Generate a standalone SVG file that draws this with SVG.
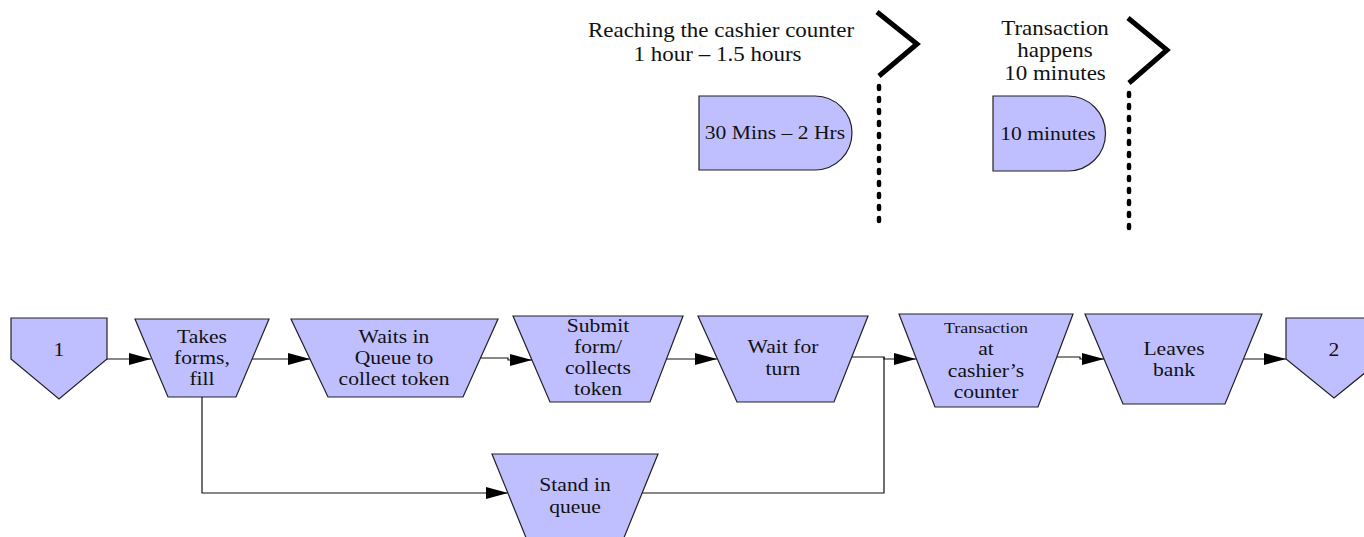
<svg xmlns="http://www.w3.org/2000/svg" width="1364" height="537" viewBox="0 0 1364 537">
  <style>
    .node { fill: #bfbfff; stroke: #222; stroke-width: 1.2; stroke-linejoin: miter; }
    .lbl { font-family: "Liberation Serif", "Times New Roman", serif; font-size: 18px; fill: #111; text-anchor: middle; }
    .small { font-size: 15px; }
    .top { font-size: 20px; }
    .edge { fill: none; stroke: #111; stroke-width: 1.2; }
    .bracket { fill: none; stroke: #000; stroke-width: 5; stroke-linejoin: miter; }
    .dots { fill: none; stroke: #000; stroke-width: 4.5; stroke-linecap: round; stroke-dasharray: 3 9; }
  </style>
  <defs>
    <marker id="arrow" markerUnits="userSpaceOnUse" markerWidth="22" markerHeight="12" refX="22" refY="6" orient="auto">
      <path d="M0,0 L22,6 L0,12 Z" fill="#000"/>
    </marker>
  </defs>
  <rect width="1364" height="537" fill="#fff"/>

  <!-- timeline markers; labels are set in a slightly widened serif -->
  <g id="marker-reaching">
    <g transform="translate(721 0) scale(1.15 1)">
      <text class="lbl top" x="0" y="37">Reaching the cashier counter</text>
      <text class="lbl top" x="-3" y="61">1 hour – 1.5 hours</text>
    </g>
    <polyline class="bracket" points="877,12 917,44 879,76"/>
    <line class="dots" x1="879" y1="86" x2="879" y2="225"/>
  </g>
  <g id="marker-transaction">
    <g transform="translate(1055 0) scale(1.15 1)">
      <text class="lbl top" x="0" y="35">Transaction</text>
      <text class="lbl top" x="0" y="57">happens</text>
      <text class="lbl top" x="0" y="80">10 minutes</text>
    </g>
    <polyline class="bracket" points="1128,18 1167,50 1129,83"/>
    <line class="dots" x1="1129" y1="93" x2="1129" y2="235"/>
  </g>

  <!-- delay blocks -->
  <g id="delay-30min">
    <path class="node" d="M699,96 H815 A37,37 0 0 1 815,170 H699 Z"/>
    <text class="lbl" transform="translate(775 0) scale(1.2 1)" x="0" y="139">30 Mins – 2 Hrs</text>
  </g>
  <g id="delay-10min">
    <path class="node" d="M993,96 H1068 A37,37 0 0 1 1068,171 H993 Z"/>
    <text class="lbl" transform="translate(1048 0) scale(1.2 1)" x="0" y="140">10 minutes</text>
  </g>

  <!-- connectors -->
  <g id="connectors">
    <path class="edge" d="M107,359 H151" marker-end="url(#arrow)"/>
    <path class="edge" d="M252,359 H310" marker-end="url(#arrow)"/>
    <path class="edge" d="M480,358 H508 V360 H532" marker-end="url(#arrow)"/>
    <path class="edge" d="M666,359 H717" marker-end="url(#arrow)"/>
    <path class="edge" d="M851,357 H884 V359 H916" marker-end="url(#arrow)"/>
    <path class="edge" d="M1057,357 H1080 V359 H1104" marker-end="url(#arrow)"/>
    <path class="edge" d="M1243,359 H1286" marker-end="url(#arrow)"/>
    <path class="edge" d="M202,397 V493 H508" marker-end="url(#arrow)"/>
    <path class="edge" d="M642,493 H884 V357"/>
  </g>

  <!-- process nodes -->
  <g id="n-start">
    <polygon class="node" points="11,318 107,318 107,359 59,399 11,359"/>
    <text class="lbl" transform="translate(59 0) scale(1.2 1)" x="0" y="356">1</text>
  </g>
  <g id="n-takes-forms">
    <polygon class="node" points="135,319 269,319 236,397 168,397"/>
    <g transform="translate(202 0) scale(1.2 1)">
      <text class="lbl" x="0" y="343">Takes</text>
      <text class="lbl" x="0" y="364">forms,</text>
      <text class="lbl" x="0" y="385">fill</text>
    </g>
  </g>
  <g id="n-waits-queue">
    <polygon class="node" points="291,319 498,319 463,397 328,397"/>
    <g transform="translate(394 0) scale(1.2 1)">
      <text class="lbl" x="0" y="343">Waits in</text>
      <text class="lbl" x="0" y="364">Queue to</text>
      <text class="lbl" x="0" y="385">collect token</text>
    </g>
  </g>
  <g id="n-submit-form">
    <polygon class="node" points="513,316 683,316 650,402 550,402"/>
    <g transform="translate(598 0) scale(1.2 1)">
      <text class="lbl" x="0" y="332">Submit</text>
      <text class="lbl" x="0" y="353">form/</text>
      <text class="lbl" x="0" y="374">collects</text>
      <text class="lbl" x="0" y="395">token</text>
    </g>
  </g>
  <g id="n-wait-turn">
    <polygon class="node" points="698,316 868,316 834,402 737,402"/>
    <g transform="translate(783 0) scale(1.2 1)">
      <text class="lbl" x="0" y="353">Wait for</text>
      <text class="lbl" x="0" y="375">turn</text>
    </g>
  </g>
  <g id="n-transaction">
    <polygon class="node" points="899,314 1073,314 1038,407 935,407"/>
    <g transform="translate(986 0) scale(1.2 1)">
      <text class="lbl small" x="0" y="333">Transaction</text>
      <text class="lbl" x="0" y="355">at</text>
      <text class="lbl" x="0" y="377">cashier’s</text>
      <text class="lbl" x="0" y="398">counter</text>
    </g>
  </g>
  <g id="n-leaves">
    <polygon class="node" points="1085,314 1262,314 1225,404 1123,404"/>
    <g transform="translate(1174 0) scale(1.2 1)">
      <text class="lbl" x="0" y="355">Leaves</text>
      <text class="lbl" x="0" y="376">bank</text>
    </g>
  </g>
  <g id="n-end">
    <polygon class="node" points="1286,318 1382,318 1382,359 1334,398 1286,359"/>
    <text class="lbl" transform="translate(1334 0) scale(1.2 1)" x="0" y="356">2</text>
  </g>
  <g id="n-stand-queue">
    <polygon class="node" points="492,454 658,454 621,545 529,545"/>
    <g transform="translate(575 0) scale(1.2 1)">
      <text class="lbl" x="0" y="491">Stand in</text>
      <text class="lbl" x="0" y="513">queue</text>
    </g>
  </g>
</svg>
